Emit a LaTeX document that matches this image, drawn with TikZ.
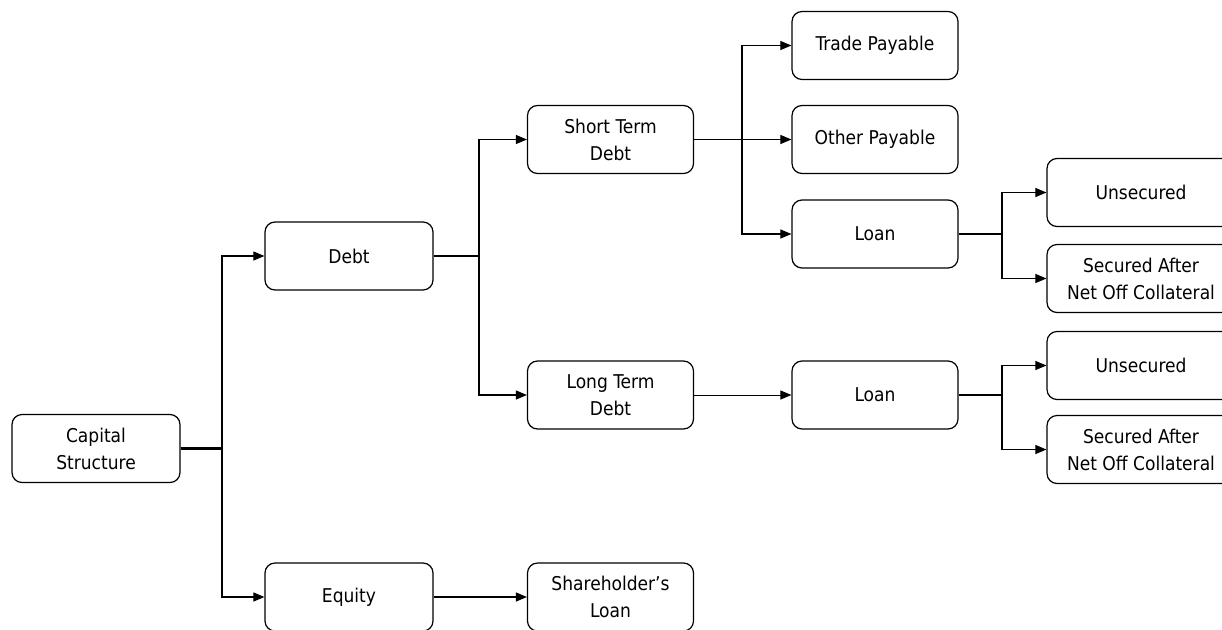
\documentclass[tikz,border=0pt]{standalone}
\usepackage{fontspec}
\setmainfont{DejaVu Sans Condensed}
\usetikzlibrary{arrows.meta}
\begin{document}
\begin{tikzpicture}[x=1pt,y=-1pt,
  box/.style={draw=black, line width=1.2pt, rounded corners=10pt, minimum height=68pt, align=center, inner sep=2pt, font=\fontsize{19}{27}\selectfont},
  colA/.style={box, minimum width=168pt},
  colB/.style={box, minimum width=166pt},
  colC/.style={box, minimum width=188pt},
  trunk/.style={line width=2.2pt},
  conn/.style={line width=1.1pt, -{Triangle[length=11pt,width=9pt]}},
  thin/.style={line width=0.8pt, -{Triangle[length=11pt,width=9pt]}}]
\useasboundingbox (0,0) rectangle (1222,629);
\clip (0,0) rectangle (1222,629);
% column 1
\node[colA] (cap) at (96,448.5) {Capital\\Structure};
% column 2
\node[colA] (debt) at (349,256) {Debt};
\node[colA] (equity) at (349,597) {Equity};
% column 3
\node[colB] (std) at (610.5,139.5) {Short Term\\Debt};
\node[colB] (ltd) at (610.5,395) {Long Term\\Debt};
\node[colB] (shl) at (610.5,597) {Shareholder's\\Loan};
% column 4
\node[colB] (trade) at (875,45.5) {Trade Payable};
\node[colB] (other) at (875,139.5) {Other Payable};
\node[colB] (loanA) at (875,234) {Loan};
\node[colB] (loanB) at (875,395) {Loan};
% column 5
\node[colC] (unsA) at (1141,192.5) {Unsecured};
\node[colC] (secA) at (1141,278.5) {Secured After\\Net Off Collateral};
\node[colC] (unsB) at (1141,365.5) {Unsecured};
\node[colC] (secB) at (1141,449.5) {Secured After\\Net Off Collateral};
% junctions
\coordinate (j1) at (222,448.5);
\coordinate (j2) at (479,256);
\coordinate (j3) at (742,139.5);
\coordinate (j4) at (1002,234);
\coordinate (j5) at (1002,395);
% connectors
\draw[trunk] (cap.east) -- (j1);
\draw[line width=1.1pt] (j1 |- debt.west) -- (j1 |- equity.west);
\draw[conn] (j1) |- (debt.west);
\draw[conn] (j1) |- (equity.west);
\draw[trunk] (debt.east) -- (j2);
\draw[line width=1.1pt] (j2 |- std.west) -- (j2 |- ltd.west);
\draw[conn] (j2) |- (std.west);
\draw[conn] (j2) |- (ltd.west);
\draw[line width=1.4pt] (std.east) -- (j3);
\draw[line width=1.1pt] (j3 |- trade.west) -- (j3 |- loanA.west);
\draw[conn] (j3) |- (trade.west);
\draw[conn] (j3) -- (other.west);
\draw[conn] (j3) |- (loanA.west);
\draw[trunk] (loanA.east) -- (j4);
\draw[line width=1.1pt] (j4 |- unsA.west) -- (j4 |- secA.west);
\draw[conn] (j4) |- (unsA.west);
\draw[conn] (j4) |- (secA.west);
\draw[thin] (ltd.east) -- (loanB.west);
\draw[trunk] (loanB.east) -- (j5);
\draw[line width=1.1pt] (j5 |- unsB.west) -- (j5 |- secB.west);
\draw[conn] (j5) |- (unsB.west);
\draw[conn] (j5) |- (secB.west);
\draw[conn] (equity.east) -- (shl.west);
\end{tikzpicture}
\end{document}
